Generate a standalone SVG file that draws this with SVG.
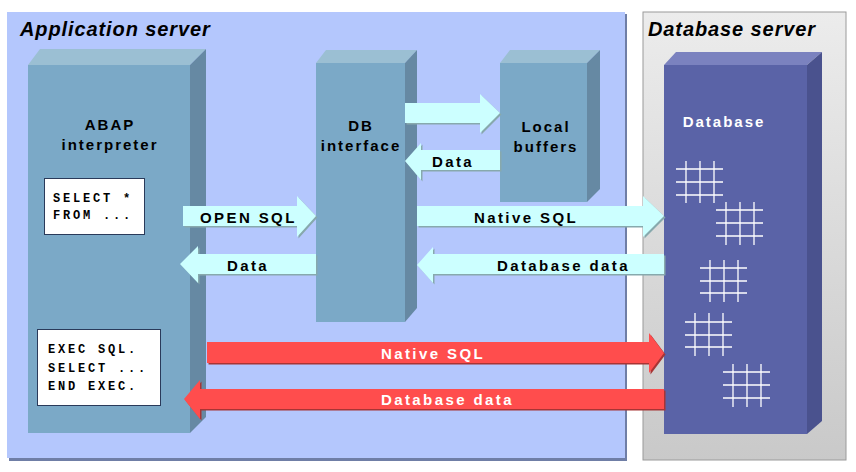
<svg xmlns="http://www.w3.org/2000/svg" width="856" height="472" viewBox="0 0 856 472">
<defs>
<linearGradient id="dbgrad" x1="0" y1="0" x2="0" y2="1">
<stop offset="0" stop-color="#ececec"/>
<stop offset="1" stop-color="#c9c9c9"/>
</linearGradient>
<style>
.title{font-family:"Liberation Sans",Arial,sans-serif;font-weight:bold;font-style:italic;font-size:20px;letter-spacing:0.9px;fill:#000}
.lbl{font-family:"Liberation Sans",Arial,sans-serif;font-weight:bold;font-size:15px;letter-spacing:2px;fill:#000;text-anchor:middle}
.albl{font-family:"Liberation Sans",Arial,sans-serif;font-weight:bold;font-size:15px;letter-spacing:2.4px;fill:#000}
.wlbl{fill:#fff}
.code{font-family:"Liberation Mono","Courier New",monospace;font-weight:bold;font-size:12px;letter-spacing:2.8px;fill:#000}
.front{fill:#7ba9c7}
.top{fill:#9bbfd3}
.side{fill:#6689a3}
.dfront{fill:#5a63a7}
.dtop{fill:#7b82bf}
.dside{fill:#4a528e}
.cyan{fill:#ccffff}
.cyansh{fill:#87a9ad}
.red{fill:#ff4d4d}
.redsh{fill:#a83434}
.grid{stroke:#fff;stroke-width:1.3;fill:none}
.codebox{fill:#fff;stroke:#2a3a5a;stroke-width:1}
</style>
</defs>

<g id="panel-app">
<rect x="9" y="14" width="618" height="447" fill="#6f7ea6"/>
<rect x="7" y="12" width="618" height="446" fill="#b4c7fd"/>
<text class="title" x="20" y="36">Application server</text>
</g>

<g id="panel-db">
<rect x="643" y="12" width="203" height="448" fill="url(#dbgrad)" stroke="#9a9a9a" stroke-width="1"/>
<text class="title" x="648" y="36">Database server</text>
</g>

<g id="node-abap">
<polygon class="top" points="28,65 40,49 206,49 190,65"/>
<polygon class="side" points="190,65 206,49 206,417 190,433"/>
<rect class="front" x="28" y="65" width="162" height="368"/>
<text class="lbl" x="110" y="130">ABAP</text>
<text class="lbl" x="110" y="150">interpreter</text>
</g>

<g id="code-select">
<rect class="codebox" x="44.5" y="178.5" width="100" height="56"/>
<text class="code" x="53" y="202">SELECT *</text>
<text class="code" x="53" y="219">FROM ...</text>
</g>

<g id="code-exec">
<rect class="codebox" x="37.5" y="329.5" width="123" height="76"/>
<text class="code" x="48" y="353">EXEC SQL.</text>
<text class="code" x="48" y="372">SELECT ...</text>
<text class="code" x="48" y="390">END EXEC.</text>
</g>

<g id="node-dbinterface">
<polygon class="top" points="316,63 326,50 417,50 405,63"/>
<polygon class="side" points="405,63 417,50 417,308 405,322"/>
<rect class="front" x="316" y="63" width="89" height="259"/>
<text class="lbl" x="361" y="131">DB</text>
<text class="lbl" x="361" y="151">interface</text>
</g>

<g id="node-buffers">
<polygon class="top" points="500,63 510,50 600,50 587,63"/>
<polygon class="side" points="587,63 600,50 600,189 587,202"/>
<rect class="front" x="500" y="63" width="87" height="139"/>
<text class="lbl" x="546" y="132">Local</text>
<text class="lbl" x="546" y="152">buffers</text>
</g>

<g id="node-database">
<polygon class="dtop" points="664,65 676,52 822,52 807,65"/>
<polygon class="dside" points="807,65 822,52 822,421 807,434"/>
<rect class="dfront" x="664" y="65" width="143" height="369"/>
<text class="lbl wlbl" x="724" y="127">Database</text>
<g class="grid">
<path d="M676,169h47M676,182h47M676,195h47M686,161v42M700,161v42M714,161v42"/>
<path d="M716,210h47M716,223h47M716,236h47M726,202v43M740,202v43M754,202v43"/>
<path d="M700,268h47M700,281h47M700,293h47M710,260v42M724,260v42M738,260v42"/>
<path d="M685,322h47M685,335h47M685,347h47M695,313v43M709,313v43M723,313v43"/>
<path d="M723,372h47M723,385h47M723,398h47M733,364v43M747,364v43M761,364v43"/>
</g>
</g>

<g id="connectors">
<g transform="translate(1.5,1.5)">
<polygon class="cyansh" points="405,103 480,103 480,94 500,113 480,133 480,123 405,123"/>
<polygon class="cyansh" points="500,150 421,150 421,143 405,161 421,180 421,170 500,170"/>
<polygon class="cyansh" points="183,206 297,206 297,196 316,216 297,237 297,226 183,226"/>
<polygon class="cyansh" points="316,254 198,254 198,246 180,264 198,283 198,274 316,274"/>
<polygon class="cyansh" points="417,206 643,206 643,196 664,216 643,237 643,226 417,226"/>
<polygon class="cyansh" points="664,254 433,254 433,247 417,265 433,283 433,274 664,274"/>
<polygon class="redsh" points="207,342 649,342 649,333 664,353 649,373 649,363 207,363"/>
<polygon class="redsh" points="664,389 200,389 200,380 184,399 200,419 200,409 664,409"/>
</g>
<polygon class="cyan" points="405,103 480,103 480,94 500,113 480,133 480,123 405,123"/>
<polygon class="cyan" points="500,150 421,150 421,143 405,161 421,180 421,170 500,170"/>
<polygon class="cyan" points="183,206 297,206 297,196 316,216 297,237 297,226 183,226"/>
<polygon class="cyan" points="316,254 198,254 198,246 180,264 198,283 198,274 316,274"/>
<polygon class="cyan" points="417,206 643,206 643,196 664,216 643,237 643,226 417,226"/>
<polygon class="cyan" points="664,254 433,254 433,247 417,265 433,283 433,274 664,274"/>
<polygon class="red" points="207,342 649,342 649,333 664,353 649,373 649,363 207,363"/>
<polygon class="red" points="664,389 200,389 200,380 184,399 200,419 200,409 664,409"/>
<text class="albl" x="432" y="167">Data</text>
<text class="albl" x="200" y="223">OPEN SQL</text>
<text class="albl" x="227" y="271">Data</text>
<text class="albl" x="474" y="223">Native SQL</text>
<text class="albl" x="497" y="271">Database data</text>
<text class="albl wlbl" x="381" y="359">Native SQL</text>
<text class="albl wlbl" x="381" y="405">Database data</text>
</g>
</svg>
